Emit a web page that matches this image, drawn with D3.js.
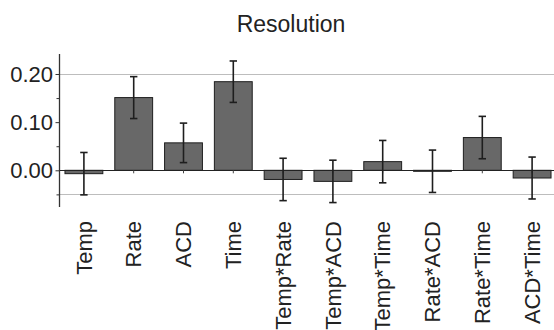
<!DOCTYPE html>
<html><head><meta charset="utf-8">
<script src="https://cdn.jsdelivr.net/npm/d3@7"></script>
<style>
html,body{margin:0;padding:0;background:#fff;}
svg{display:block;font-family:"Liberation Sans",Arial,sans-serif;}
</style></head>
<body>
<svg id="chart" width="554" height="330"></svg>
<script>
const categories = ["Temp","Rate","ACD","Time","Temp*Rate","Temp*ACD","Temp*Time","Rate*ACD","Rate*Time","ACD*Time"];
const estimates = [-0.007,0.151,0.057,0.184,-0.019,-0.023,0.018,-0.002,0.068,-0.016];
const errors = [0.044,0.0435,0.041,0.043,0.044,0.044,0.044,0.044,0.044,0.0435];
const majorTicks = [0.00,0.10,0.20];
const minorTicks = [-0.05,0.05,0.15];
const refLines = [0.20,-0.05];
const title = "Resolution";

const svg = d3.select("#chart");
const W = 554, H = 330;
const x = d3.scaleBand().domain(categories).range([59, 557]).paddingInner(0.24).paddingOuter(0.12);
const y = d3.scaleLinear().domain([-0.0762, 0.2415]).range([207, 54]);
const axX = 59.5;

// reference lines
svg.selectAll("line.ref").data(refLines).join("line")
  .attr("x1", axX).attr("x2", W)
  .attr("y1", d => Math.round(y(d)) + 0.5).attr("y2", d => Math.round(y(d)) + 0.5)
  .attr("stroke", "#bdbdbd").attr("stroke-width", 1);

// bars
svg.selectAll("rect.bar").data(categories).join("rect")
  .attr("x", d => x(d))
  .attr("width", x.bandwidth())
  .attr("y", (d,i) => y(Math.max(0, estimates[i])))
  .attr("height", (d,i) => Math.max(1, Math.abs(y(estimates[i]) - y(0))))
  .attr("fill", "#686868").attr("stroke", "#1e1e1e").attr("stroke-width", 1);

// zero line
svg.append("line").attr("x1", axX).attr("x2", W)
  .attr("y1", Math.round(y(0)) + 0.5).attr("y2", Math.round(y(0)) + 0.5)
  .attr("stroke", "#222").attr("stroke-width", 1.2);

// small ticks below zero line at category centres
svg.selectAll("line.ct").data(categories).join("line")
  .attr("x1", d => x(d) + x.bandwidth()/2).attr("x2", d => x(d) + x.bandwidth()/2)
  .attr("y1", y(0)).attr("y2", y(0) + 3)
  .attr("stroke", "#444").attr("stroke-width", 1);

// error bars
const eb = svg.append("g").attr("stroke", "#1e1e1e").attr("stroke-width", 1.6);
categories.forEach((c,i) => {
  const cx = x(c) + x.bandwidth()/2;
  const lo = y(estimates[i] - errors[i]), hi = y(estimates[i] + errors[i]);
  eb.append("line").attr("x1", cx).attr("x2", cx).attr("y1", hi).attr("y2", lo);
  eb.append("line").attr("x1", cx - 3.7).attr("x2", cx + 3.7).attr("y1", hi).attr("y2", hi);
  eb.append("line").attr("x1", cx - 3.7).attr("x2", cx + 3.7).attr("y1", lo).attr("y2", lo);
});

// y axis
const yAxis = d3.axisLeft(y).tickValues(majorTicks).tickFormat(d3.format(".2f")).tickSize(4).tickPadding(2.5);
const gy = svg.append("g").attr("transform", `translate(${axX},0)`).call(yAxis);
gy.select(".domain").remove();
gy.selectAll(".tick line").attr("stroke", "#333");
gy.selectAll(".tick text").attr("font-size", 22).attr("fill", "#222").attr("font-family", "Liberation Sans, Arial, sans-serif");
const minorAxis = d3.axisLeft(y).tickValues(minorTicks).tickFormat("").tickSize(3);
const gm = svg.append("g").attr("transform", `translate(${axX},0)`).call(minorAxis);
gm.select(".domain").remove();
gm.selectAll(".tick line").attr("stroke", "#333");
svg.append("line").attr("x1", axX).attr("x2", axX).attr("y1", 54).attr("y2", 207)
  .attr("stroke", "#333").attr("stroke-width", 1.3);

// x labels
svg.selectAll("text.cat").data(categories).join("text")
  .attr("transform", d => `translate(${x(d) + x.bandwidth()/2},221) rotate(-90)`)
  .attr("text-anchor", "end").attr("dy", "0.35em")
  .attr("font-size", 22).attr("fill", "#222")
  .text(d => d);

// title
svg.append("text").attr("x", 291).attr("y", 32).attr("text-anchor", "middle")
  .attr("font-size", 23).attr("fill", "#222").text(title);
</script>
</body></html>
